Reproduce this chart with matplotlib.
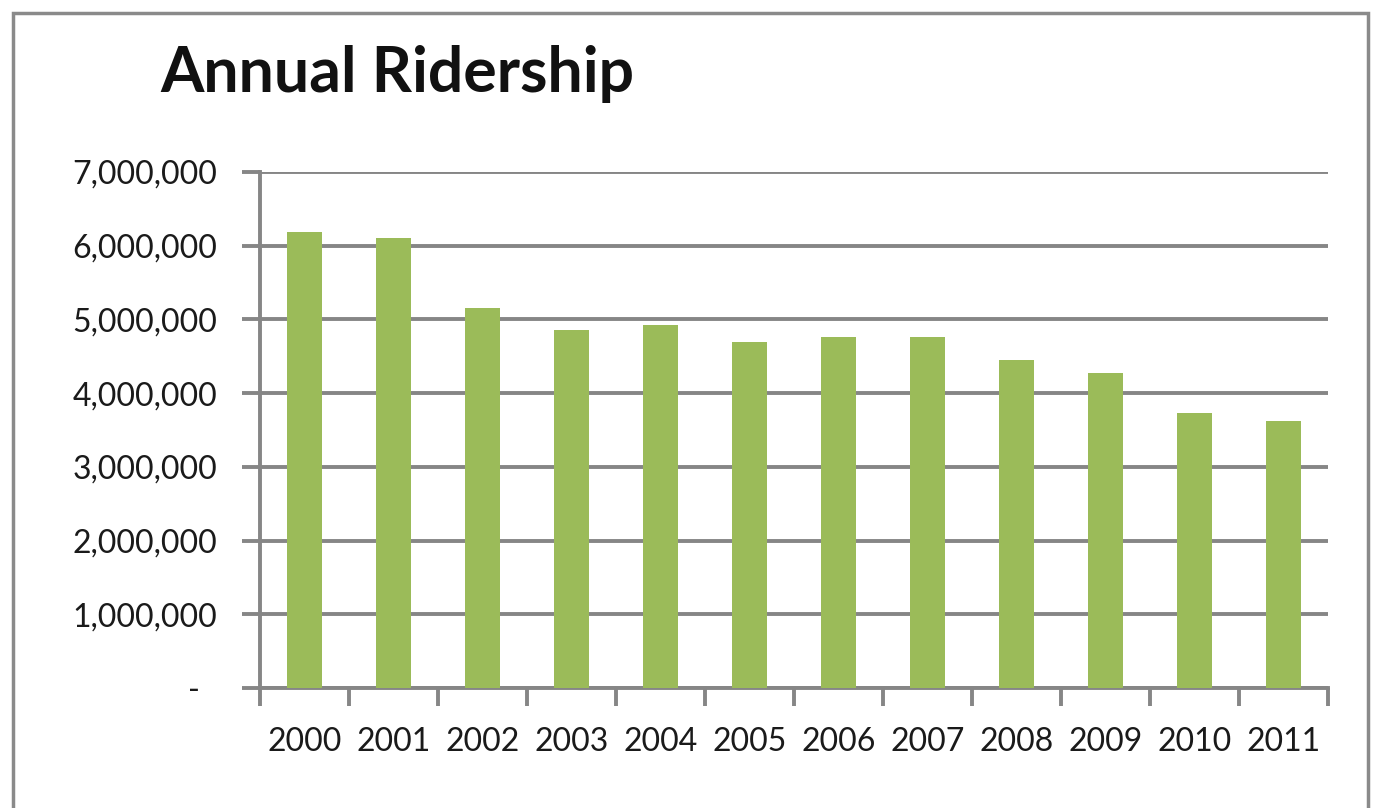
import matplotlib
matplotlib.use("Agg")
import matplotlib.pyplot as plt
import matplotlib.ticker as mticker
import matplotlib.transforms as mtransforms
from matplotlib.patches import Rectangle

years = ["2000", "2001", "2002", "2003", "2004", "2005",
         "2006", "2007", "2008", "2009", "2010", "2011"]
ridership = [6180000, 6110000, 5150000, 4860000, 4930000, 4690000,
             4760000, 4760000, 4450000, 4270000, 3730000, 3620000]
title = "Annual Ridership"

plt.rcParams['font.family'] = ['Lato', 'DejaVu Sans']

W, H = 1377, 808
fig = plt.figure(figsize=(W / 100, H / 100), dpi=100)
fig.patch.set_facecolor("white")

# outer chart frame
fig.add_artist(Rectangle((13 / W, -0.05), (1368 - 13) / W, 1.05 - 13 / H,
                         transform=fig.transFigure, fill=False,
                         edgecolor="#8a8a8a", linewidth=2.5))

ax = fig.add_axes([260 / W, 1 - 688 / H, (1328 - 260) / W, (688 - 172) / H])
grey = "#868686"
x = list(range(len(years)))
ax.bar(x, ridership, width=0.40, color="#9BBB59", zorder=3)

ax.set_xlim(-0.5, len(years) - 0.5)
ax.set_ylim(0, 7000000)
ax.yaxis.set_major_locator(mticker.MultipleLocator(1000000))
ax.yaxis.set_major_formatter(mticker.FuncFormatter(
    lambda v, p: "-" if v == 0 else f"{int(v):,}"))
ax.grid(axis="y", color=grey, linewidth=2.8, zorder=1)
ax.set_axisbelow(True)

for s in ["top", "right"]:
    ax.spines[s].set_visible(False)
ax.spines["left"].set_color(grey)
ax.spines["left"].set_linewidth(2.8)
ax.spines["bottom"].set_color(grey)
ax.spines["bottom"].set_linewidth(2.8)

# x ticks at category boundaries, labels at centres
ax.set_xticks([i - 0.5 for i in range(len(years) + 1)])
ax.set_xticklabels([])
ax.set_xticks(x, minor=True)
ax.set_xticklabels(years, minor=True)
ax.tick_params(axis="x", which="major", direction="out", length=13,
               width=2.8, color=grey)
ax.tick_params(axis="x", which="minor", length=0, pad=28,
               labelsize=23, labelcolor="#1a1a1a")
ax.tick_params(axis="y", direction="out", length=13, width=2.8,
               color=grey, pad=18, labelsize=23, labelcolor="#1a1a1a")

fig.canvas.draw()
for tick in ax.yaxis.get_major_ticks():
    if tick.get_loc() == 0:
        off = mtransforms.ScaledTranslation(-17 / 100, 0, fig.dpi_scale_trans)
        tick.label1.set_transform(tick.label1.get_transform() + off)

fig.text(160 / W, 1 - 74 / H, title, fontsize=45, fontweight="bold",
         color="#111111", va="center", ha="left")

fig.savefig("out.png", dpi=100, facecolor="white")
